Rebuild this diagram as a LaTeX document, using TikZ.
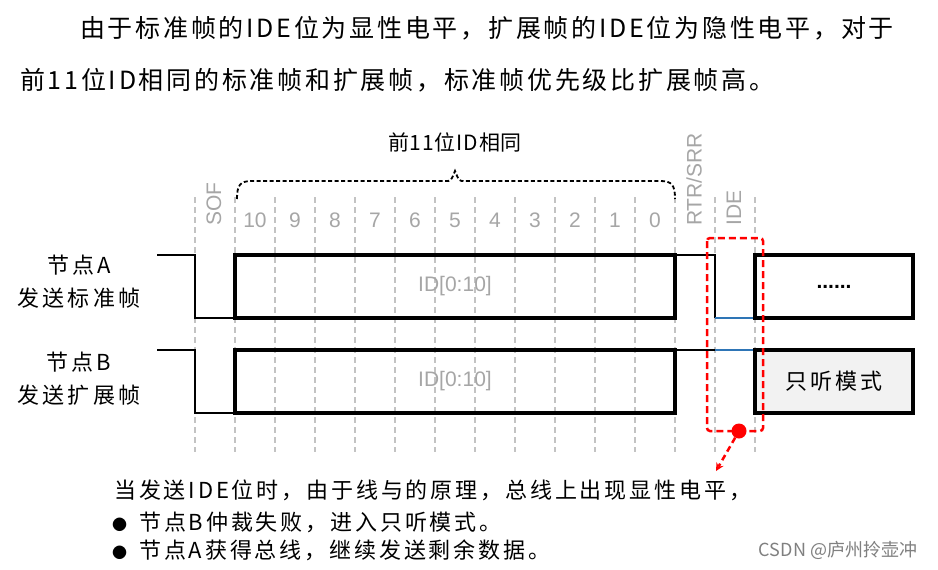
\documentclass[tikz,border=0pt]{standalone}
\usepackage{fontspec}
\setmainfont{Liberation Sans}
\newfontfamily\cjk{Noto Sans CJK SC}
\usetikzlibrary{positioning}

\definecolor{bitgray}{RGB}{166,166,166}
\definecolor{gridgray}{RGB}{195,195,195}
\definecolor{busblue}{RGB}{46,117,182}
\definecolor{boxgray}{RGB}{242,242,242}

\begin{document}
\begin{tikzpicture}[
    x=1pt, y=-1pt,
    every node/.style={inner sep=0pt},
    para/.style={anchor=west, font=\cjk\fontsize{25}{30}\selectfont\addfontfeature{LetterSpace=11}},
    nodelabel/.style={align=center, font=\cjk\fontsize{22}{33}\selectfont\addfontfeature{LetterSpace=14}},
    title/.style={font=\cjk\fontsize{21}{25}\selectfont\addfontfeature{LetterSpace=4}},
    note/.style={anchor=west, font=\cjk\fontsize{22}{26}\selectfont\addfontfeature{LetterSpace=13}},
    bitlabel/.style={text=bitgray, font=\fontsize{21}{25}\selectfont},
    sidelabel/.style={bitlabel, rotate=90, anchor=west},
    gridline/.style={gridgray, line width=1.5pt, dash pattern=on 6pt off 4pt},
    idbrace/.style={line width=1.8pt, dash pattern=on 4pt off 2.5pt},
    wire/.style={line width=2pt},
    bus/.style={busblue, line width=2.2pt},
    frame/.style={draw, line width=3.4pt, outer sep=0pt, minimum width=440, minimum height=63, text=bitgray, font=\fontsize{21}{25}\selectfont},
    redbox/.style={red, line width=2.5pt, dash pattern=on 7pt off 4pt, rounded corners=3pt},
    hitdot/.style={circle, fill=red, minimum size=15pt},
    pointer/.style={red, line width=2.5pt, dash pattern=on 6pt off 4pt, ->, >=stealth},
    watermark/.style={text=gray, font=\cjk\fontsize{18}{20}\selectfont}
]
    \path[use as bounding box, fill=white] (0,0) rectangle (938,570);

    % Heading text
    \node [para] (line1) at (80,28) {由于标准帧的IDE位为显性电平，扩展帧的IDE位为隐性电平，对于};
    \node [para] (line2) at (20,80) {前11位ID相同的标准帧和扩展帧，标准帧优先级比扩展帧高。};

    % Bit grid
    \foreach \x in {195,235,...,755}
        \draw [gridline] (\x,197) -- (\x,452);
    \node [sidelabel] (sof) at (214,226) {SOF};
    \foreach \b [count=\i] in {10,9,...,0}
        \node [bitlabel] (bit\b) at ({215+40*\i},220) {\b};
    \node [sidelabel] (rtr) at (694,226) {RTR/SRR};
    \node [sidelabel] (ide) at (734,226) {IDE};

    % Brace over the identifier
    \draw [idbrace] (237,199) .. controls (237,185) and (240,181) .. (252,181) -- (446,181)
        .. controls (451,181) .. (455,171) .. controls (459,181) .. (464,181) -- (660,181)
        .. controls (672,181) and (675,185) .. (675,199);
    \node [title] (same) at (455,142) {前11位ID相同};

    % Node A
    \node [nodelabel] (nodeA) at (79,282) {节点A\\发送标准帧};
    \draw [wire] (157,255) -- (195,255) -- (195,318) -- (235,318);
    \node [frame] (idA) at (455,286.5) {ID[0:10]};
    \draw [wire] (idA.north east) -- (715,255) -- (715,318);
    \draw [bus] (715,318) -- (755,318);
    \node [frame, minimum width=158, text=black] (restA) at (834,286.5) {\textbf{......}};

    % Node B
    \node [nodelabel] (nodeB) at (79,379) {节点B\\发送扩展帧};
    \draw [wire] (157,350) -- (195,350) -- (195,413) -- (235,413);
    \node [frame] (idB) at (455,381.5) {ID[0:10]};
    \draw [wire] (idB.north east) -- (715,350);
    \draw [bus] (715,350) -- (755,350);
    \node [frame, minimum width=158, fill=boxgray, text=black, nodelabel] (listen) at (834,381.5) {只听模式};

    % IDE arbitration
    \draw [redbox] (707,238) rectangle (763,431);
    \node [hitdot] (hit) at (739,431) {};
    \coordinate (tip) at (716,471);
    \draw [pointer] (hit) -- (tip);

    % Notes
    \node [note] (why) at (114,490) {当发送IDE位时，由于线与的原理，总线上出现显性电平，};
    \node [note] (lost) at (112,522) {{\fontsize{15}{15}\selectfont ●}\hspace{12pt}节点B仲裁失败，进入只听模式。};
    \node [note] (won) at (112,550) {{\fontsize{15}{15}\selectfont ●}\hspace{12pt}节点A获得总线，继续发送剩余数据。};
    \node [watermark] (csdn) at (838,550) {CSDN @庐州拎壶冲};
\end{tikzpicture}
\end{document}
